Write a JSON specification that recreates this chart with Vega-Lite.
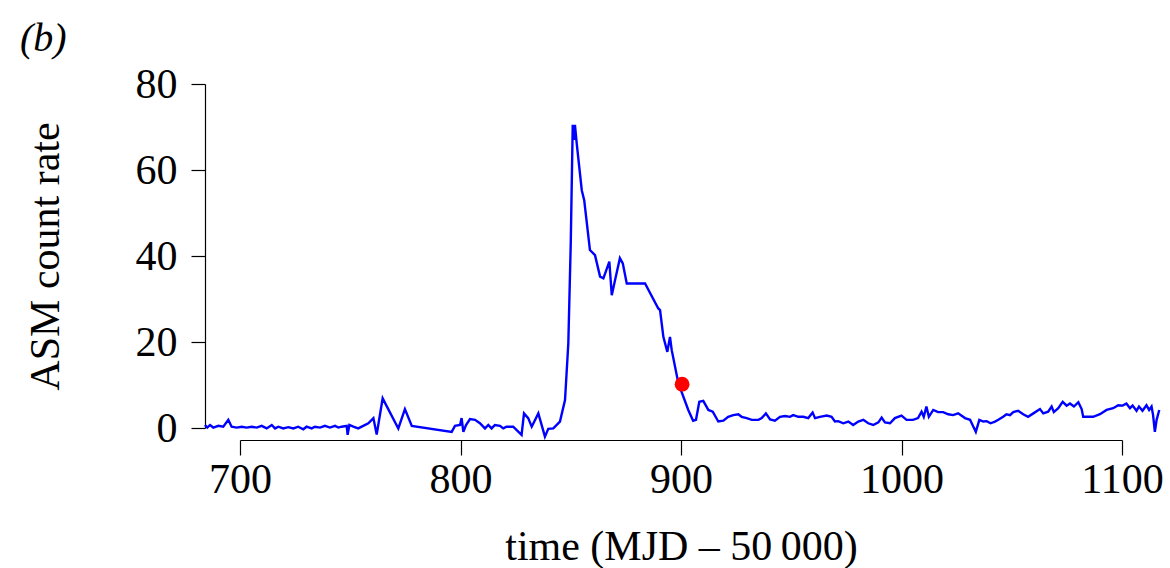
{
  "$schema": "https://vega.github.io/schema/vega-lite/v6.json",
  "width": 882,
  "height": 344,
  "autosize": {"type": "none"},
  "padding": {"left": 240, "top": 84, "right": 48, "bottom": 140},
  "background": "white",
  "config": {"view": {"stroke": null}, "font": "Liberation Serif"},
  "title": {"text": "(b)", "anchor": "start", "frame": "group", "dx": -220, "offset": 4, "font": "Liberation Serif", "fontSize": 40, "fontStyle": "italic", "fontWeight": "normal", "color": "black"},
  "datasets": {
    "asm": [
      {"t": 684.1, "rate": 0.7}, {"t": 685.2, "rate": 0.1}, {"t": 686.4, "rate": 0.7}, {"t": 687.9, "rate": 0.1},
      {"t": 690.2, "rate": 0.5}, {"t": 692.4, "rate": 0.3}, {"t": 694.7, "rate": 1.9}, {"t": 696.2, "rate": 0.3},
      {"t": 698.5, "rate": 0.1}, {"t": 700.8, "rate": 0.3}, {"t": 703.0, "rate": 0.1}, {"t": 705.3, "rate": 0.3},
      {"t": 707.6, "rate": 0.1}, {"t": 709.8, "rate": 0.5}, {"t": 712.1, "rate": -0.1}, {"t": 714.4, "rate": 0.7},
      {"t": 715.9, "rate": -0.1}, {"t": 717.4, "rate": 0.3}, {"t": 719.6, "rate": -0.1}, {"t": 721.9, "rate": 0.2},
      {"t": 724.2, "rate": -0.1}, {"t": 726.4, "rate": 0.3}, {"t": 728.7, "rate": -0.3}, {"t": 730.2, "rate": 0.3},
      {"t": 732.5, "rate": -0.1}, {"t": 734.0, "rate": 0.3}, {"t": 736.3, "rate": 0.1}, {"t": 738.5, "rate": 0.5},
      {"t": 740.8, "rate": 0.1}, {"t": 743.1, "rate": 0.5}, {"t": 744.6, "rate": 0.1}, {"t": 746.1, "rate": 0.3},
      {"t": 748.4, "rate": 0.5}, {"t": 748.8, "rate": -1.6}, {"t": 749.6, "rate": 0.7}, {"t": 751.4, "rate": 0.3},
      {"t": 753.6, "rate": -0.1}, {"t": 755.9, "rate": 0.5}, {"t": 758.2, "rate": 1.1}, {"t": 760.5, "rate": 2.3},
      {"t": 762.0, "rate": -1.5}, {"t": 764.7, "rate": 6.9}, {"t": 771.8, "rate": -0.1}, {"t": 774.8, "rate": 4.4},
      {"t": 777.9, "rate": 0.5}, {"t": 796.0, "rate": -0.9}, {"t": 797.5, "rate": 0.5}, {"t": 799.8, "rate": 0.7},
      {"t": 800.5, "rate": 2.3}, {"t": 801.3, "rate": -0.9}, {"t": 802.5, "rate": 0.7}, {"t": 804.3, "rate": 2.1},
      {"t": 806.6, "rate": 1.9}, {"t": 808.8, "rate": 1.1}, {"t": 811.1, "rate": -0.1}, {"t": 812.6, "rate": 0.7},
      {"t": 814.1, "rate": -0.1}, {"t": 815.6, "rate": 0.7}, {"t": 817.9, "rate": 0.5}, {"t": 819.4, "rate": -0.1},
      {"t": 820.9, "rate": 0.3}, {"t": 823.9, "rate": 0.3}, {"t": 827.7, "rate": -1.6}, {"t": 828.8, "rate": 3.4},
      {"t": 830.7, "rate": 2.3}, {"t": 832.3, "rate": 0.3}, {"t": 835.3, "rate": 3.4}, {"t": 838.3, "rate": -2.0},
      {"t": 839.8, "rate": -0.2}, {"t": 842.1, "rate": -0.1}, {"t": 845.1, "rate": 1.5}, {"t": 847.4, "rate": 6.5},
      {"t": 848.9, "rate": 19.7}, {"t": 850.0, "rate": 43.0}, {"t": 850.9, "rate": 70.5}, {"t": 851.5, "rate": 67.0},
      {"t": 851.9, "rate": 70.5}, {"t": 852.7, "rate": 66.2}, {"t": 855.0, "rate": 55.3}, {"t": 856.1, "rate": 53.0},
      {"t": 858.7, "rate": 41.4}, {"t": 861.0, "rate": 40.2}, {"t": 863.3, "rate": 35.2}, {"t": 864.8, "rate": 34.8},
      {"t": 867.5, "rate": 38.7}, {"t": 868.6, "rate": 30.9}, {"t": 870.1, "rate": 34.4}, {"t": 872.3, "rate": 39.5},
      {"t": 873.6, "rate": 38.3}, {"t": 875.4, "rate": 33.6}, {"t": 883.7, "rate": 33.6}, {"t": 889.7, "rate": 27.8},
      {"t": 890.5, "rate": 27.4}, {"t": 892.0, "rate": 21.2}, {"t": 893.8, "rate": 17.7}, {"t": 895.0, "rate": 21.2},
      {"t": 895.8, "rate": 18.1}, {"t": 898.8, "rate": 10.4}, {"t": 903.3, "rate": 4.2}, {"t": 905.5, "rate": 1.7},
      {"t": 906.8, "rate": 1.9}, {"t": 908.3, "rate": 6.1}, {"t": 910.1, "rate": 6.3}, {"t": 912.4, "rate": 4.2},
      {"t": 914.4, "rate": 3.8}, {"t": 916.9, "rate": 1.5}, {"t": 919.2, "rate": 1.7}, {"t": 921.4, "rate": 2.6},
      {"t": 923.7, "rate": 3.0}, {"t": 926.0, "rate": 3.2}, {"t": 927.5, "rate": 2.6}, {"t": 929.8, "rate": 2.3},
      {"t": 932.1, "rate": 1.9}, {"t": 935.1, "rate": 1.9}, {"t": 936.6, "rate": 2.3}, {"t": 938.5, "rate": 3.4},
      {"t": 940.4, "rate": 2.0}, {"t": 942.6, "rate": 1.7}, {"t": 944.9, "rate": 2.6}, {"t": 947.2, "rate": 2.8},
      {"t": 949.4, "rate": 2.6}, {"t": 950.9, "rate": 3.0}, {"t": 953.2, "rate": 2.6}, {"t": 955.5, "rate": 2.6},
      {"t": 957.7, "rate": 2.3}, {"t": 959.7, "rate": 3.6}, {"t": 960.8, "rate": 2.3}, {"t": 963.0, "rate": 2.6},
      {"t": 966.1, "rate": 2.9}, {"t": 968.3, "rate": 2.6}, {"t": 969.8, "rate": 1.5}, {"t": 971.3, "rate": 1.6},
      {"t": 973.6, "rate": 1.1}, {"t": 975.9, "rate": 1.5}, {"t": 978.1, "rate": 0.7}, {"t": 980.4, "rate": 1.5},
      {"t": 982.7, "rate": 1.9}, {"t": 984.9, "rate": 1.1}, {"t": 987.2, "rate": 0.7}, {"t": 989.5, "rate": 1.3},
      {"t": 991.0, "rate": 2.4}, {"t": 992.5, "rate": 1.3}, {"t": 994.8, "rate": 1.1}, {"t": 997.0, "rate": 2.3},
      {"t": 1000.0, "rate": 2.9}, {"t": 1002.3, "rate": 1.9}, {"t": 1005.2, "rate": 1.9}, {"t": 1007.5, "rate": 2.3},
      {"t": 1009.1, "rate": 3.8}, {"t": 1010.1, "rate": 2.6}, {"t": 1011.3, "rate": 5.0}, {"t": 1012.4, "rate": 2.6},
      {"t": 1014.4, "rate": 4.2}, {"t": 1016.6, "rate": 3.7}, {"t": 1018.9, "rate": 3.7}, {"t": 1021.2, "rate": 3.2},
      {"t": 1023.4, "rate": 3.0}, {"t": 1025.7, "rate": 3.4}, {"t": 1028.8, "rate": 2.3}, {"t": 1031.1, "rate": 1.9},
      {"t": 1032.6, "rate": 0.3}, {"t": 1033.7, "rate": -0.9}, {"t": 1035.3, "rate": 1.9}, {"t": 1037.1, "rate": 1.5},
      {"t": 1038.6, "rate": 1.6}, {"t": 1040.4, "rate": 1.1}, {"t": 1042.4, "rate": 1.5}, {"t": 1043.9, "rate": 1.9},
      {"t": 1046.1, "rate": 2.6}, {"t": 1047.6, "rate": 3.2}, {"t": 1049.2, "rate": 3.0}, {"t": 1050.7, "rate": 3.7},
      {"t": 1052.9, "rate": 4.0}, {"t": 1055.2, "rate": 3.2}, {"t": 1057.4, "rate": 2.6}, {"t": 1059.8, "rate": 3.4},
      {"t": 1062.8, "rate": 4.4}, {"t": 1064.3, "rate": 3.4}, {"t": 1066.5, "rate": 3.8}, {"t": 1068.1, "rate": 5.0},
      {"t": 1069.1, "rate": 3.7}, {"t": 1071.1, "rate": 4.6}, {"t": 1073.1, "rate": 6.1}, {"t": 1074.9, "rate": 5.2},
      {"t": 1076.4, "rate": 5.7}, {"t": 1078.2, "rate": 5.0}, {"t": 1080.2, "rate": 6.0}, {"t": 1081.7, "rate": 4.4},
      {"t": 1082.4, "rate": 2.6}, {"t": 1086.9, "rate": 2.6}, {"t": 1090.0, "rate": 3.2}, {"t": 1093.0, "rate": 4.2},
      {"t": 1096.0, "rate": 4.6}, {"t": 1098.3, "rate": 5.3}, {"t": 1100.3, "rate": 5.2}, {"t": 1102.0, "rate": 5.7},
      {"t": 1103.6, "rate": 4.6}, {"t": 1104.8, "rate": 5.2}, {"t": 1106.6, "rate": 4.0}, {"t": 1107.7, "rate": 5.0},
      {"t": 1109.3, "rate": 4.0}, {"t": 1111.1, "rate": 5.3}, {"t": 1112.3, "rate": 4.2}, {"t": 1113.4, "rate": 5.0},
      {"t": 1114.1, "rate": 3.0}, {"t": 1114.9, "rate": -0.9}, {"t": 1115.7, "rate": 1.9}, {"t": 1116.9, "rate": 4.2}
    ],
    "marker": [{"t": 900.5, "rate": 10.2}]
  },
  "encoding": {
    "x": {
      "field": "t", "type": "quantitative",
      "scale": {"domain": [700, 1100], "nice": false, "zero": false},
      "axis": {
        "title": "time (MJD \u2013 50\u2009000)", "values": [700, 800, 900, 1000, 1100], "format": "d",
        "offset": 12, "grid": false, "domainColor": "black", "domainWidth": 1.2,
        "tickColor": "black", "tickWidth": 1.2, "tickSize": 15,
        "labelFont": "Liberation Serif", "labelFontSize": 42, "labelColor": "black", "labelPadding": 4,
        "labelFlush": false, "labelOverlap": false,
        "titleFont": "Liberation Serif", "titleFontSize": 42, "titleFontWeight": "normal", "titleColor": "black", "titlePadding": 26
      }
    },
    "y": {
      "field": "rate", "type": "quantitative",
      "scale": {"domain": [0, 80], "nice": false, "zero": false},
      "axis": {
        "title": "ASM count rate", "values": [0, 20, 40, 60, 80], "format": "d",
        "offset": 35, "grid": false, "domainColor": "black", "domainWidth": 1.2,
        "tickColor": "black", "tickWidth": 1.2, "tickSize": 14,
        "labelFont": "Liberation Serif", "labelFontSize": 42, "labelColor": "black", "labelPadding": 14,
        "labelFlush": false, "labelOverlap": false,
        "titleFont": "Liberation Serif", "titleFontSize": 42, "titleFontWeight": "normal", "titleColor": "black", "titlePadding": 68
      }
    }
  },
  "layer": [
    {"data": {"name": "asm"}, "mark": {"type": "line", "color": "#0000ff", "strokeWidth": 2.4, "clip": false}},
    {"data": {"name": "marker"}, "mark": {"type": "point", "filled": true, "color": "#ff0000", "opacity": 1, "size": 220, "shape": "circle"}}
  ]
}
